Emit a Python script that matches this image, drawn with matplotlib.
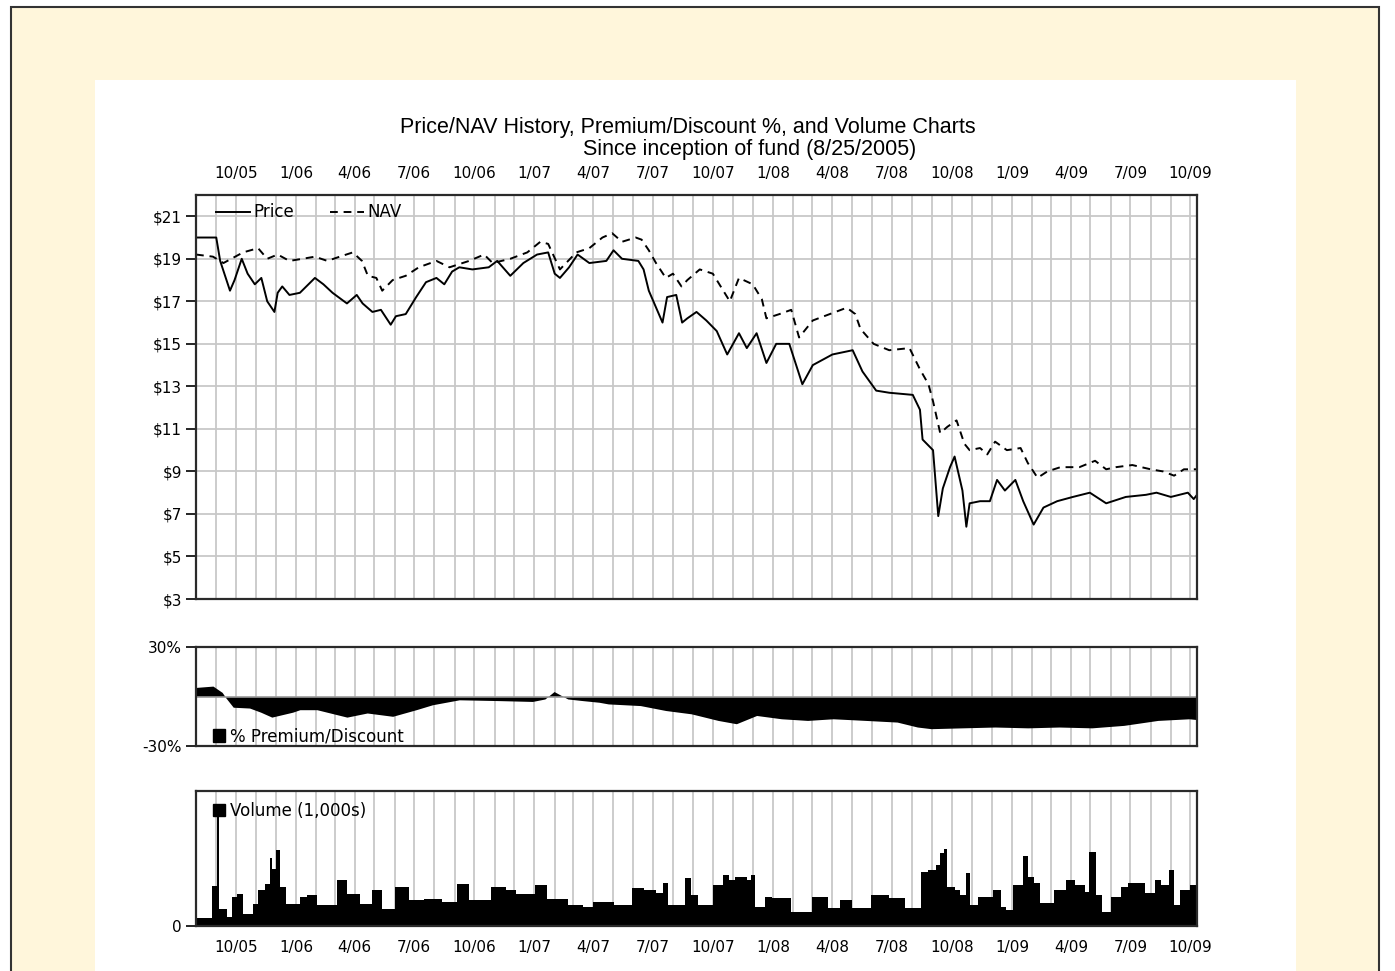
import matplotlib
matplotlib.use("Agg")
import matplotlib.pyplot as plt
import matplotlib.dates as mdates
from matplotlib.patches import Rectangle, Patch
from matplotlib.lines import Line2D
from matplotlib.ticker import FuncFormatter
import pandas as pd

# market price
price_dates = [
    "2005-08-01", "2005-09-01", "2005-09-07", "2005-09-22", "2005-09-29", "2005-10-10",
    "2005-10-19", "2005-10-30", "2005-11-09", "2005-11-18", "2005-11-29", "2005-12-04",
    "2005-12-11", "2005-12-22", "2006-01-07", "2006-01-30", "2006-02-12", "2006-02-26",
    "2006-03-20", "2006-04-04", "2006-04-13", "2006-04-28", "2006-05-11", "2006-05-26",
    "2006-06-03", "2006-06-18", "2006-07-04", "2006-07-19", "2006-08-04", "2006-08-16",
    "2006-08-28", "2006-09-08", "2006-09-28", "2006-10-23", "2006-11-05", "2006-11-25",
    "2006-12-15", "2007-01-05", "2007-01-22", "2007-02-01", "2007-02-09", "2007-02-23",
    "2007-03-08", "2007-03-26", "2007-04-21", "2007-05-02", "2007-05-15", "2007-06-09",
    "2007-06-17", "2007-06-25", "2007-07-16", "2007-07-23", "2007-08-06", "2007-08-15",
    "2007-08-23", "2007-09-06", "2007-09-21", "2007-10-07", "2007-10-23", "2007-11-10",
    "2007-11-22", "2007-12-07", "2007-12-22", "2008-01-06", "2008-01-26", "2008-02-15",
    "2008-03-02", "2008-04-01", "2008-05-02", "2008-05-17", "2008-06-07", "2008-06-27",
    "2008-08-02", "2008-08-13", "2008-08-17", "2008-09-02", "2008-09-10", "2008-09-17",
    "2008-09-28", "2008-10-05", "2008-10-17", "2008-10-23", "2008-10-28", "2008-11-13",
    "2008-11-28", "2008-12-09", "2008-12-21", "2009-01-06", "2009-01-18", "2009-02-03",
    "2009-02-18", "2009-03-11", "2009-04-04", "2009-04-30", "2009-05-25", "2009-06-24",
    "2009-07-25", "2009-08-10", "2009-09-01", "2009-09-27", "2009-10-06", "2009-10-11",
]
price = [
    20.0, 20.0, 18.9, 17.5, 18.0, 19.0,
    18.3, 17.8, 18.1, 17.0, 16.5, 17.4,
    17.7, 17.3, 17.4, 18.1, 17.8, 17.4,
    16.9, 17.3, 16.9, 16.5, 16.6, 15.9,
    16.3, 16.4, 17.2, 17.9, 18.1, 17.8,
    18.4, 18.6, 18.5, 18.6, 18.9, 18.2,
    18.8, 19.2, 19.3, 18.3, 18.1, 18.6,
    19.2, 18.8, 18.9, 19.4, 19.0, 18.9,
    18.5, 17.5, 16.0, 17.2, 17.3, 16.0,
    16.2, 16.5, 16.1, 15.6, 14.5, 15.5,
    14.8, 15.5, 14.1, 15.0, 15.0, 13.1,
    14.0, 14.5, 14.7, 13.7, 12.8, 12.7,
    12.6, 11.9, 10.5, 10.0, 6.9, 8.2,
    9.2, 9.7, 8.1, 6.4, 7.5, 7.6,
    7.6, 8.6, 8.1, 8.6, 7.6, 6.5,
    7.3, 7.6, 7.8, 8.0, 7.5, 7.8,
    7.9, 8.0, 7.8, 8.0, 7.7, 7.9,
]

nav_dates = [
    "2005-08-01", "2005-08-27", "2005-09-12", "2005-10-12", "2005-11-04", "2005-11-18",
    "2005-12-04", "2005-12-22", "2006-01-11", "2006-01-30", "2006-02-18", "2006-03-09",
    "2006-03-29", "2006-04-12", "2006-04-21", "2006-05-04", "2006-05-13", "2006-05-29",
    "2006-06-18", "2006-07-08", "2006-08-04", "2006-08-24", "2006-09-23", "2006-10-16",
    "2006-10-29", "2006-11-25", "2006-12-21", "2007-01-10", "2007-01-22", "2007-02-09",
    "2007-03-06", "2007-03-26", "2007-04-15", "2007-04-30", "2007-05-15", "2007-06-05",
    "2007-06-14", "2007-06-25", "2007-07-06", "2007-07-21", "2007-08-01", "2007-08-14",
    "2007-08-23", "2007-09-11", "2007-10-01", "2007-10-27", "2007-11-10", "2007-12-01",
    "2007-12-15", "2007-12-22", "2008-01-11", "2008-01-29", "2008-02-10", "2008-03-02",
    "2008-03-28", "2008-04-23", "2008-05-06", "2008-05-14", "2008-06-03", "2008-06-27",
    "2008-07-28", "2008-08-13", "2008-08-26", "2008-09-02", "2008-09-13", "2008-09-24",
    "2008-10-08", "2008-10-20", "2008-10-28", "2008-11-13", "2008-11-24", "2008-12-06",
    "2008-12-24", "2009-01-14", "2009-01-25", "2009-02-09", "2009-02-24", "2009-03-16",
    "2009-04-14", "2009-05-08", "2009-05-25", "2009-06-09", "2009-07-04", "2009-08-01",
    "2009-08-20", "2009-09-06", "2009-09-21", "2009-10-11",
]
nav = [
    19.2, 19.1, 18.8, 19.3, 19.5, 19.0,
    19.2, 18.9, 19.0, 19.1, 18.9, 19.1,
    19.3, 18.9, 18.2, 18.1, 17.5, 18.0,
    18.2, 18.6, 18.9, 18.6, 18.9, 19.2,
    18.8, 19.0, 19.3, 19.8, 19.7, 18.5,
    19.3, 19.5, 20.0, 20.2, 19.8, 20.0,
    19.9, 19.4, 18.8, 18.1, 18.3, 17.7,
    18.0, 18.5, 18.3, 17.0, 18.1, 17.8,
    17.1, 16.2, 16.4, 16.6, 15.3, 16.1,
    16.4, 16.7, 16.4, 15.7, 15.0, 14.7,
    14.8, 13.8, 13.1, 12.3, 10.8, 11.1,
    11.4, 10.3, 10.0, 10.1, 9.8, 10.4,
    10.0, 10.1, 9.4, 8.7, 9.0, 9.2,
    9.2, 9.5, 9.1, 9.2, 9.3, 9.1,
    9.0, 8.8, 9.1, 9.1,
]

prem_dates = [
    "2005-08-01", "2005-08-27", "2005-09-10", "2005-09-16", "2005-09-27", "2005-10-22",
    "2005-11-08", "2005-11-25", "2005-12-27", "2006-01-07", "2006-02-02", "2006-03-20",
    "2006-04-20", "2006-05-29", "2006-07-04", "2006-07-29", "2006-09-08", "2006-11-09",
    "2006-12-29", "2007-01-17", "2007-01-31", "2007-02-21", "2007-03-16", "2007-04-10",
    "2007-04-24", "2007-06-12", "2007-07-21", "2007-08-29", "2007-10-09", "2007-11-06",
    "2007-12-07", "2008-01-14", "2008-02-23", "2008-04-02", "2008-05-22", "2008-07-09",
    "2008-08-09", "2008-08-30", "2008-10-17", "2008-12-06", "2009-01-25", "2009-03-14",
    "2009-05-03", "2009-06-21", "2009-08-12", "2009-09-29", "2009-10-11",
]
premium = [
    5.5, 6.3, 2.5, -1.0, -6.5, -7.0,
    -9.5, -12.5, -9.5, -8.0, -8.0, -12.5,
    -10.0, -12.0, -8.0, -5.0, -2.0, -2.5,
    -3.0, -1.5, 3.0, -1.5, -2.5, -3.5,
    -4.5, -5.5, -8.5, -10.5, -14.5, -16.5,
    -11.5, -13.5, -14.5, -13.5, -14.5, -15.5,
    -18.5, -19.5, -19.0, -18.5, -19.0, -18.5,
    -19.0, -17.5, -14.5, -13.5, -14.0,
]

vol_dates = [
    "2005-08-01", "2005-08-22", "2005-08-25", "2005-08-30", "2005-09-02", "2005-09-05",
    "2005-09-17", "2005-09-25", "2005-10-03", "2005-10-12", "2005-10-27", "2005-11-04",
    "2005-11-14", "2005-11-22", "2005-11-26", "2005-12-02", "2005-12-07", "2005-12-17",
    "2006-01-07", "2006-01-18", "2006-02-02", "2006-02-26", "2006-03-05", "2006-03-20",
    "2006-04-09", "2006-04-28", "2006-05-13", "2006-06-01", "2006-06-23", "2006-07-16",
    "2006-08-13", "2006-09-04", "2006-09-23", "2006-10-26", "2006-11-19", "2006-12-03",
    "2007-01-02", "2007-01-20", "2007-02-21", "2007-03-16", "2007-03-31", "2007-05-02",
    "2007-05-31", "2007-06-18", "2007-07-06", "2007-07-16", "2007-07-24", "2007-08-19",
    "2007-08-29", "2007-09-09", "2007-10-02", "2007-10-17", "2007-10-26", "2007-11-04",
    "2007-11-13", "2007-11-22", "2007-11-29", "2007-12-05", "2007-12-20", "2007-12-30",
    "2008-01-28", "2008-03-01", "2008-03-26", "2008-04-12", "2008-05-01", "2008-05-30",
    "2008-06-27", "2008-07-21", "2008-08-14", "2008-08-25", "2008-09-07", "2008-09-13",
    "2008-09-19", "2008-09-24", "2008-10-05", "2008-10-14", "2008-10-22", "2008-10-28",
    "2008-11-10", "2008-11-20", "2008-12-03", "2008-12-15", "2008-12-23", "2009-01-02",
    "2009-01-17", "2009-01-25", "2009-02-03", "2009-02-12", "2009-02-26", "2009-03-06",
    "2009-03-25", "2009-04-07", "2009-04-22", "2009-04-28", "2009-05-09", "2009-05-18",
    "2009-06-01", "2009-06-16", "2009-06-28", "2009-07-12", "2009-07-24", "2009-08-08",
    "2009-08-17", "2009-08-29", "2009-09-06", "2009-09-15", "2009-10-01", "2009-10-11",
]
volume = [
    8, 8, 40, 40, 123, 17,
    9, 29, 32, 12, 22, 36,
    42, 69, 57, 77, 39, 22,
    29, 31, 21, 21, 46, 32,
    22, 36, 17, 39, 26, 27,
    24, 42, 26, 39, 36, 32,
    41, 27, 21, 19, 24, 21,
    38, 36, 33, 43, 21, 48,
    31, 21, 41, 51, 46, 49,
    49, 46, 51, 19, 29, 28,
    14, 29, 18, 26, 18, 31,
    28, 18, 54, 56, 61, 74,
    78, 39, 36, 31, 53, 21,
    29, 29, 36, 19, 16, 41,
    71, 49, 43, 23, 23, 36,
    46, 41, 34, 75, 31, 14,
    29, 39, 43, 43, 33, 46,
    41, 56, 21, 36, 41, 36,
]

W, H = 1395, 971
CREAM = "#FFF6DB"
GRID = "#C8C8C8"
x_start = pd.Timestamp("2005-08-01")
x_end = pd.Timestamp("2009-10-11")


def box(x0, y0, x1, y1):
    # pixel box (y from top) -> figure fraction rect
    return [x0 / W, 1 - y1 / H, (x1 - x0) / W, (y1 - y0) / H]


def month_label(v, pos):
    d = mdates.num2date(v)
    return f"{d.month}/{d:%y}"


def style(ax):
    ax.set_xlim(x_start, x_end)
    ax.xaxis.set_major_locator(mdates.MonthLocator(bymonth=[1, 4, 7, 10]))
    ax.xaxis.set_minor_locator(mdates.MonthLocator())
    ax.xaxis.set_major_formatter(FuncFormatter(month_label))
    ax.grid(True, which="both", axis="x", color=GRID, lw=1.3)
    ax.set_axisbelow(True)
    ax.tick_params(axis="x", which="both", length=0, labelsize=11)
    ax.tick_params(axis="y", length=7, width=1.2, pad=3, labelsize=11)
    for s in ax.spines.values():
        s.set_color("#2a2a2a")
        s.set_linewidth(1.6)


fig = plt.figure(figsize=(W / 100, H / 100), dpi=100)
fig.patch.set_facecolor("white")
fig.patches.append(Rectangle((11 / W, -0.02), (1379 - 11) / W, 1 - 7 / H + 0.02,
                             transform=fig.transFigure, facecolor=CREAM,
                             edgecolor="#333333", lw=1.5, zorder=-2))
fig.patches.append(Rectangle((95 / W, -0.02), (1296 - 95) / W, 1 - 80 / H + 0.02,
                             transform=fig.transFigure, facecolor="white",
                             edgecolor="none", zorder=-1))

fig.text(688 / W, 1 - 127 / H, "Price/NAV History, Premium/Discount %, and Volume Charts",
         ha="center", va="center", fontsize=15.5, family="Liberation Sans")
fig.text(750 / W, 1 - 149 / H, "Since inception of fund (8/25/2005)",
         ha="center", va="center", fontsize=15.5, family="Liberation Sans")

# price / nav
ax1 = fig.add_axes(box(196, 195, 1197, 599))
style(ax1)
ax1.plot(pd.to_datetime(price_dates), price, color="black", lw=1.4)
ax1.plot(pd.to_datetime(nav_dates), nav, color="black", lw=1.4, ls=(0, (4, 3)))
ax1.set_ylim(3, 22)
ax1.set_yticks(range(3, 22, 2))
ax1.yaxis.set_major_formatter(FuncFormatter(lambda v, p: f"${v:.0f}"))
ax1.grid(True, axis="y", color=GRID, lw=1.3)
ax1.xaxis.set_ticks_position("top")
ax1.tick_params(axis="x", labeltop=True, labelbottom=False, pad=10)
ax1.legend(handles=[Line2D([], [], color="black", lw=1.4),
                    Line2D([], [], color="black", lw=1.4, ls=(0, (4, 3)))],
           labels=["Price", "NAV"], loc="upper left", ncol=2, frameon=False,
           fontsize=12, handlelength=2.0, handletextpad=0.2, columnspacing=2.2,
           borderaxespad=0.1, bbox_to_anchor=(0.012, 1.0))

# premium / discount
ax2 = fig.add_axes(box(196, 647, 1197, 746))
style(ax2)
ax2.fill_between(pd.to_datetime(prem_dates), premium, 0, color="black", lw=0)
ax2.axhline(0, color="#9a9a9a", lw=1.2)
ax2.set_ylim(-30, 30)
ax2.set_yticks([-30, 30])
ax2.set_yticklabels(["-30%", "30%"])
ax2.tick_params(axis="x", labelbottom=False)
ax2.legend(handles=[Patch(color="black")], labels=["% Premium/Discount"],
           loc="lower left", frameon=False, fontsize=12, handlelength=0.75,
           handleheight=0.75, handletextpad=0.3, borderaxespad=0.0,
           bbox_to_anchor=(0.01, -0.06))

# volume
ax3 = fig.add_axes(box(196, 791, 1197, 926))
style(ax3)
ax3.fill_between(pd.to_datetime(vol_dates), volume, 0, step="post", color="black", lw=0)
ax3.set_ylim(0, 136)
ax3.set_yticks([0])
ax3.tick_params(axis="x", pad=10)
ax3.legend(handles=[Patch(color="black")], labels=["Volume (1,000s)"],
           loc="upper left", frameon=False, fontsize=12, handlelength=0.75,
           handleheight=0.75, handletextpad=0.3, borderaxespad=0.0,
           bbox_to_anchor=(0.01, 0.97))

fig.savefig("out.png", dpi=100)
